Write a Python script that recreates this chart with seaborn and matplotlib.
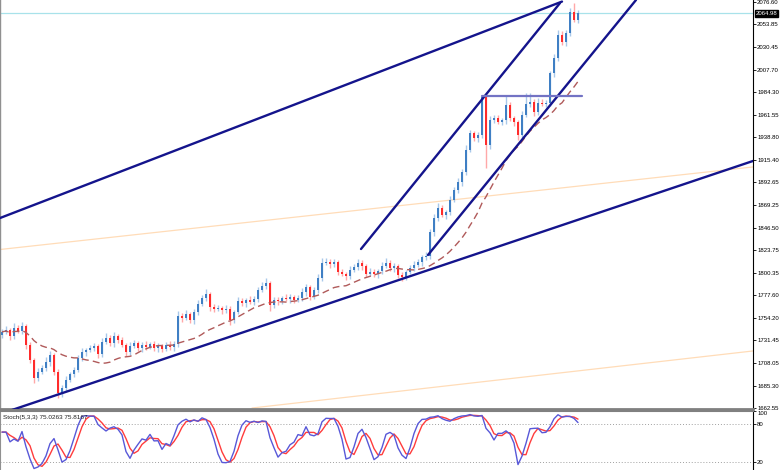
import numpy as np
import pandas as pd
import matplotlib
matplotlib.use("Agg")
import matplotlib.pyplot as plt
import seaborn as sns

# candle closes (oldest -> newest)
closes = [
    1740.0, 1742.0, 1735.9, 1744.0, 1741.0, 1746.1, 1726.7, 1711.4, 1693.0, 1699.2,
    1703.2, 1709.4, 1716.5, 1699.2, 1677.7, 1682.8, 1691.0, 1697.1, 1701.2, 1713.4,
    1719.6, 1721.6, 1723.6, 1725.7, 1717.5, 1729.8, 1733.9, 1728.7, 1735.9, 1731.8,
    1726.7, 1719.6, 1725.7, 1728.7, 1723.6, 1726.7, 1724.7, 1727.7, 1723.6, 1725.7,
    1722.6, 1726.7, 1724.7, 1727.7, 1756.3, 1754.2, 1758.3, 1752.2, 1760.4, 1768.5,
    1774.6, 1778.7, 1765.5, 1763.4, 1764.4, 1762.4, 1763.4, 1752.2, 1760.4, 1771.6,
    1769.5, 1772.6, 1770.6, 1773.6, 1782.8, 1786.9, 1789.9, 1767.5, 1772.6, 1771.6,
    1774.6, 1773.6, 1775.7, 1772.6, 1774.6, 1780.8, 1785.9, 1775.7, 1782.8, 1795.0,
    1810.3, 1811.4, 1809.3, 1811.4, 1801.2, 1799.1, 1797.1, 1803.2, 1806.3, 1810.3,
    1807.3, 1799.1, 1801.2, 1799.1, 1802.2, 1807.3, 1810.3, 1805.2, 1807.3, 1798.1,
    1796.1, 1801.2, 1805.2, 1808.3, 1811.4, 1816.5, 1817.5, 1842.0, 1856.2, 1866.4,
    1859.3, 1862.4, 1874.6, 1884.8, 1893.0, 1903.2, 1925.6, 1943.0, 1937.8, 1940.9,
    1979.7, 1930.7, 1956.2, 1958.2, 1954.2, 1956.2, 1971.5, 1958.2, 1954.2, 1940.9,
    1961.3, 1972.5, 1974.6, 1964.4, 1973.5, 1972.5, 1973.5, 2004.1, 2019.4, 2042.9,
    2035.8, 2044.9, 2066.4, 2058.2, 2064.98,
]
first_open = 1737.0

# wick lengths above / below the body
wick_up = [
    3, 4, 2, 5, 3, 4, 2, 3, 2, 4,  3, 5, 4, 2, 3, 3, 4, 2, 3, 3,
    4, 2, 3, 3, 2, 4, 5, 3, 4, 2,  3, 2, 4, 3, 2, 3, 4, 2, 3, 3,
    2, 3, 4, 3, 5, 3, 4, 2, 3, 4,  3, 5, 2, 3, 3, 2, 4, 3, 2, 4,
    3, 2, 4, 3, 3, 4, 5, 2, 3, 3,  2, 4, 3, 2, 3, 4, 3, 2, 3, 4,
    5, 4, 3, 3, 2, 3, 2, 4, 3, 4,  3, 2, 4, 3, 2, 4, 5, 3, 3, 2,
    3, 2, 3, 4, 3, 2, 4, 3, 4, 5,  3, 2, 4, 3, 4, 3, 5, 3, 2, 3,
    1, 3, 4, 3, 3, 2, 9, 3, 2, 2,  4, 11, 9, 3, 5, 4, 3, 2, 4, 5,
    4, 3, 4, 9, 3,
]
wick_dn = [
    3, 2, 4, 3, 2, 3, 4, 3, 5, 3,  2, 3, 4, 3, 5, 4, 3, 2, 3, 2,
    3, 4, 2, 3, 4, 3, 2, 3, 4, 3,  2, 4, 3, 2, 3, 4, 3, 2, 3, 4,
    3, 2, 3, 4, 3, 4, 2, 3, 4, 3,  2, 3, 4, 3, 2, 4, 3, 5, 3, 2,
    3, 4, 2, 3, 3, 2, 3, 6, 3, 4,  3, 2, 4, 3, 2, 3, 4, 3, 2, 3,
    3, 2, 4, 3, 3, 2, 4, 3, 2, 3,  4, 3, 2, 3, 4, 3, 2, 3, 4, 3,
    4, 3, 2, 3, 2, 4, 3, 3, 4, 3,  2, 4, 3, 2, 3, 4, 3, 2, 3, 4,
    3, 23, 4, 3, 2, 3, 4, 3, 4, 5,  3, 2, 3, 4, 3, 2, 3, 3, 4, 3,
    3, 4, 3, 2, 3,
]

price_ticks = [2076.60, 2053.85, 2030.45, 2007.70, 1984.30, 1961.55, 1938.80,
               1915.40, 1892.65, 1869.25, 1846.50, 1823.75, 1800.35, 1777.60,
               1754.20, 1731.45, 1708.05, 1685.30, 1662.55]
last_price = 2064.98
stoch_label = "Stoch(5,3,3) 75.0263 75.8167"

# hand drawn objects: (bar index, price) pairs
channel_upper = [(-0.5, 1856.2), (140.0, 2077.0)]
channel_lower = [(2.5, 1660.4), (187.75, 1914.4)]
steep_upper = [(89.75, 1824.6), (139.5, 2075.5)]
steep_lower = [(106.5, 1818.5), (158.5, 2078.6)]
resistance = [(120.0, 1981.0), (145.0, 1981.0)]
fibo_a = [(-0.5, 1824.1), (187.75, 1908.3)]
fibo_b = [(62.5, 1662.4), (187.75, 1720.6)]

df = pd.DataFrame({"close": closes})
df["idx"] = np.arange(len(df))
df["open"] = [first_open] + closes[:-1]
df["high"] = df[["open", "close"]].max(axis=1) + np.array(wick_up)
df["low"] = df[["open", "close"]].min(axis=1) - np.array(wick_dn)
df["ma"] = df["close"].rolling(20, min_periods=1).mean()

hh = df["high"].rolling(5, min_periods=1).max()
ll = df["low"].rolling(5, min_periods=1).min()
df["k"] = 100 * (df["close"] - ll).rolling(3, min_periods=1).sum() / \
    (hh - ll).rolling(3, min_periods=1).sum()
df["d"] = df["k"].rolling(3, min_periods=1).mean()

sns.set_style("white")
plt.rcParams["font.family"] = ["Liberation Sans", "DejaVu Sans"]

fig = plt.figure(figsize=(7.8, 4.7), dpi=100)
ax = fig.add_axes([0, 61 / 470, 753 / 780, 409 / 470])
ax2 = fig.add_axes([0, 0, 753 / 780, 59 / 470])

# reference lines under the candles
ax.axhline(last_price, color="#a8e2ea", lw=0.9, zorder=1)
for seg in (fibo_a, fibo_b):
    ax.plot(*zip(*seg), color="#ffdcb8", lw=0.9, zorder=1)

up = df["close"] >= df["open"]
body_col = np.where(up, "#3f7fc4", "#ff2b2b")
wick_col = np.where(up, "#a9c8ea", "#ffa8a8")
ax.vlines(df["idx"], df["low"], df["high"], colors=wick_col, lw=1.0, zorder=2)
height = (df["close"] - df["open"]).where(lambda s: s.abs() > 0.8, 0.8)
ax.bar(df["idx"], height, bottom=df["open"], width=0.55, color=body_col,
       edgecolor="none", zorder=3)

sns.lineplot(data=df, x="idx", y="ma", ax=ax, color="#b05a5a", lw=1.0, zorder=4)
ax.lines[-1].set_linestyle((0, (5, 3)))

for seg in (channel_upper, channel_lower, steep_upper, steep_lower):
    ax.plot(*zip(*seg), color="#14148c", lw=1.7, zorder=5)
ax.plot(*zip(*resistance), color="#7373c4", lw=1.6, zorder=5)

ax.set_xlim(-0.5, 187.75)
ax.set_ylim(1661.4, 2078.6)
ax.set_xticks([])
ax.set_xlabel("")
ax.set_ylabel("")
ax.yaxis.tick_right()
ax.set_yticks(price_ticks)
ax.set_yticklabels([f"{t:.2f}" for t in price_ticks])
ax.tick_params(axis="y", right=True, length=2, width=0.6, pad=1,
               labelsize=4.3, colors="black")
ax.spines["top"].set_visible(False)
ax.spines["left"].set_color("#909090")
ax.spines["left"].set_linewidth(1.0)
ax.spines["right"].set_color("black")
ax.spines["right"].set_linewidth(0.8)
ax.spines["bottom"].set_color("#808080")
ax.spines["bottom"].set_linewidth(2.0)

ax.text(1.003, (last_price - 1661.4) / (2078.6 - 1661.4), f"{last_price:.2f}",
        transform=ax.transAxes, fontsize=4.3, color="white", va="center",
        ha="left", bbox=dict(boxstyle="square,pad=0.12", fc="black", ec="black"))

# stochastic sub window
ax2.axhline(80, color="#a0a0a0", lw=0.7, ls=(0, (1, 2)))
ax2.axhline(20, color="#a0a0a0", lw=0.7, ls=(0, (1, 2)))
sns.lineplot(data=df, x="idx", y="d", ax=ax2, color="#ff3c3c", lw=1.0)
sns.lineplot(data=df, x="idx", y="k", ax=ax2, color="#5858d8", lw=1.0)
ax2.set_xlim(-0.5, 187.75)
ax2.set_ylim(6.8, 100)
ax2.set_xticks([])
ax2.set_xlabel("")
ax2.set_ylabel("")
ax2.yaxis.tick_right()
ax2.set_yticks([100, 80, 20])
ax2.set_yticklabels(["100", "80", "20"])
ax2.tick_params(axis="y", right=True, length=2, width=0.6, pad=1,
                labelsize=4.3, colors="black")
ax2.get_yticklabels()[0].set_va("top")
ax2.spines["top"].set_color("#808080")
ax2.spines["top"].set_linewidth(1.5)
ax2.spines["bottom"].set_visible(False)
ax2.spines["left"].set_color("#909090")
ax2.spines["right"].set_color("black")
ax2.spines["right"].set_linewidth(0.8)
ax2.text(0.004, 0.93, stoch_label, transform=ax2.transAxes, fontsize=4.6,
         color="#202020", va="top", ha="left")

fig.savefig("out.png", dpi=100)
